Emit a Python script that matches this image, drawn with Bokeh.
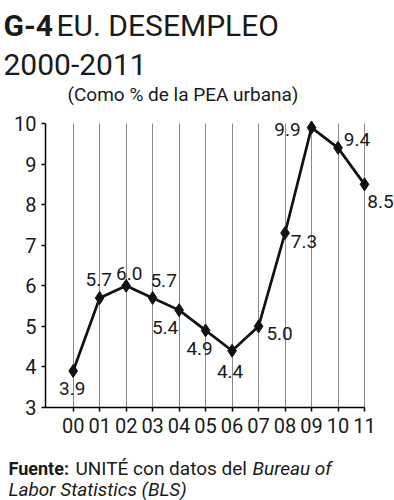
from bokeh.plotting import figure
from bokeh.models import Range1d, FixedTicker, ColumnDataSource, Label, LabelSet
from bokeh.core.properties import value
from bokeh.embed import file_html
from bokeh.resources import INLINE

# ---- data ----
years = ["00", "01", "02", "03", "04", "05", "06", "07", "08", "09", "10", "11"]
unemployment = [3.9, 5.7, 6.0, 5.7, 5.4, 4.9, 4.4, 5.0, 7.3, 9.9, 9.4, 8.5]
value_labels = ["3.9", "5.7", "6.0", "5.7", "5.4", "4.9", "4.4", "5.0", "7.3", "9.9", "9.4", "8.5"]
y_ticks = [3, 4, 5, 6, 7, 8, 9, 10]

# ---- layout / style ----
FONT = "Roboto"
TXT = "#1a1a1a"
W, H = 394, 500
X0, X1 = -1.045, 11.0
Y0, Y1 = 3.0, 10.0
FL, FR, FT, FB = 45, 364, 123, 407  # axes box in page px

# label offsets in screen px (right, up)
label_offsets = [(-1, -18), (-1, 18), (3, 12), (11, 17), (-14, -17), (-6, -18),
                 (-2, -21), (21, -7), (19, -8), (-24, -2), (19, 8), (16, -17)]


def px_x(page_x):
    return X0 + (page_x - FL) * (X1 - X0) / (FR - FL)


def px_y(page_y):
    return Y0 + (FB - page_y) * (Y1 - Y0) / (FB - FT)


xs = list(range(len(years)))

p = figure(width=W, height=H, x_range=Range1d(px_x(0), px_x(W)), y_range=Range1d(px_y(H), px_y(0)),
           output_backend="svg", toolbar_location=None,
           min_border_left=0, min_border_right=0, min_border_top=0, min_border_bottom=0)
p.outline_line_color = None
p.background_fill_color = "white"
p.border_fill_color = "white"

p.xaxis.fixed_location = Y0
p.yaxis.fixed_location = X0
p.xaxis.bounds = (X0, X1)
p.yaxis.bounds = (Y0, Y1)

p.xgrid.ticker = FixedTicker(ticks=xs)
p.xgrid.cross_bounds = (Y0, Y1)
p.xgrid.grid_line_color = "#8a8a8a"
p.xgrid.grid_line_width = 1
p.ygrid.grid_line_color = None

p.xaxis.ticker = FixedTicker(ticks=xs)
p.xaxis.major_label_overrides = {i: y for i, y in enumerate(years)}
p.yaxis.ticker = FixedTicker(ticks=y_ticks)
for ax in (p.xaxis, p.yaxis):
    ax.axis_line_color = "black"
    ax.axis_line_width = 1.5
    ax.major_tick_line_color = "black"
    ax.major_tick_line_width = 1.5
    ax.major_tick_in = 0
    ax.major_tick_out = 4
    ax.minor_tick_line_color = None
    ax.major_label_text_font = FONT
    ax.major_label_text_font_size = "20px"
    ax.major_label_text_color = TXT
p.xaxis.major_label_standoff = 6
p.yaxis.major_label_standoff = 5

src = ColumnDataSource(dict(x=xs, y=unemployment, t=value_labels,
                            dx=[o[0] for o in label_offsets],
                            dy=[o[1] for o in label_offsets]))
p.line("x", "y", source=src, line_color="#111111", line_width=2.7)
p.scatter("x", "y", source=src, marker="diamond", size=13,
          fill_color="#111111", line_color="#111111")

p.add_layout(LabelSet(x="x", y="y", text="t", source=src, x_offset="dx", y_offset="dy",
                      text_font=value(FONT), text_font_size="19px", text_color=TXT,
                      text_align="center", text_baseline="middle"))


def add_text(txt, page_x, page_y, size, style="normal", align="left"):
    p.add_layout(Label(x=px_x(page_x), y=px_y(page_y), text=txt, text_font=FONT,
                       text_font_size=size, text_font_style=style, text_color=TXT,
                       text_align=align, text_baseline="alphabetic"))


# titles
add_text("G-4", 3, 25, "30px", "bold")
add_text("EU. DESEMPLEO", 56, 25, "30px")
add_text("2000-2011", 3, 64, "30px")
add_text("(Como % de la PEA urbana)", 67, 94, "19px")

# source note
add_text("Fuente:", 8, 468, "18px", "bold")
add_text("UNITÉ con datos del", 75, 468, "19px")
add_text("Bureau of", 252, 468, "19px", "italic")
add_text("Labor Statistics (BLS)", 8, 489, "19px", "italic")

open("out.html", "w").write(file_html(p, INLINE))
